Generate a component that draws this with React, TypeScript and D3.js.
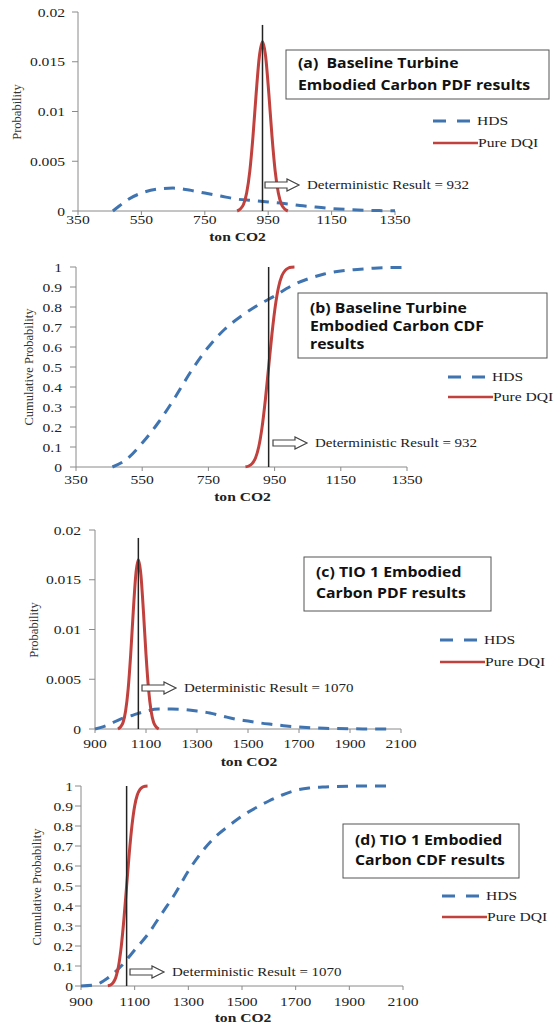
import React from "react";
import * as d3 from "d3";

// values
const baselineTicksX = [350, 550, 750, 950, 1150, 1350];
const tioTicksX = [900, 1100, 1300, 1500, 1700, 1900, 2100];
const pdfTicksY = [0, 0.005, 0.01, 0.015, 0.02];
const cdfTicksY = [0, 0.1, 0.2, 0.3, 0.4, 0.5, 0.6, 0.7, 0.8, 0.9, 1];

const detBaseline = 932;
const detTio = 1070;

// (a) baseline turbine PDF
const baseHdsPdfX = [460, 480, 500, 550, 600, 650, 700, 750, 800, 850, 900, 950, 1000, 1050, 1100, 1150, 1200, 1250, 1300, 1350];
const baseHdsPdfY = [0, 0.0005, 0.001, 0.0018, 0.0022, 0.0023, 0.0021, 0.0018, 0.0015, 0.0012, 0.00105, 0.0009, 0.00075, 0.00055, 0.0004, 0.00025, 0.00015, 0.00008, 0.00004, 0.00002];
const baseDqiPdfX = [852, 862, 872, 882, 892, 902, 912, 922, 932, 942, 952, 962, 972, 982, 992, 1002, 1012];
const baseDqiPdfY = [0, 0.0002, 0.00065, 0.0018, 0.004, 0.0075, 0.0118, 0.0155, 0.017, 0.0155, 0.0118, 0.0075, 0.004, 0.0018, 0.00065, 0.0002, 0];

// (b) baseline turbine CDF
const baseHdsCdfX = [460, 500, 550, 600, 650, 700, 750, 800, 850, 900, 950, 1000, 1050, 1100, 1150, 1200, 1250, 1300, 1350];
const baseHdsCdfY = [0, 0.035, 0.12, 0.225, 0.35, 0.485, 0.6, 0.69, 0.755, 0.81, 0.855, 0.905, 0.94, 0.965, 0.98, 0.988, 0.994, 0.997, 0.998];
const baseDqiCdfX = [862, 872, 882, 892, 902, 912, 922, 932, 942, 952, 962, 972, 982, 992, 1002, 1010];
const baseDqiCdfY = [0.001, 0.005, 0.017, 0.044, 0.1, 0.197, 0.335, 0.5, 0.665, 0.803, 0.9, 0.956, 0.983, 0.995, 0.999, 1];

// (c) TIO 1 PDF
const tioHdsPdfX = [900, 950, 1000, 1050, 1100, 1150, 1200, 1250, 1300, 1350, 1400, 1450, 1500, 1550, 1600, 1650, 1700, 1750, 1800, 1850, 1900, 1950, 2000, 2050];
const tioHdsPdfY = [0, 0.0004, 0.001, 0.0014, 0.0018, 0.002, 0.002, 0.00195, 0.0018, 0.0016, 0.0013, 0.001, 0.0008, 0.0006, 0.00045, 0.0003, 0.0002, 0.00012, 0.00007, 0.00004, 0.00002, 0.00001, 0.00001, 0];
const tioDqiPdfX = [990, 1000, 1010, 1020, 1030, 1040, 1050, 1060, 1070, 1080, 1090, 1100, 1110, 1120, 1130, 1140, 1150];
const tioDqiPdfY = [0, 0.0002, 0.00065, 0.0018, 0.004, 0.0075, 0.0118, 0.0155, 0.017, 0.0155, 0.0118, 0.0075, 0.004, 0.0018, 0.00065, 0.0002, 0];

// (d) TIO 1 CDF
const tioHdsCdfX = [900, 950, 1000, 1050, 1100, 1150, 1200, 1250, 1300, 1350, 1400, 1450, 1500, 1550, 1600, 1650, 1700, 1750, 1800, 1900, 2000, 2050];
const tioHdsCdfY = [0, 0.005, 0.04, 0.1, 0.18, 0.26, 0.36, 0.46, 0.575, 0.67, 0.745, 0.8, 0.85, 0.89, 0.925, 0.955, 0.978, 0.99, 0.995, 0.999, 1, 1];
const tioDqiCdfX = [1000, 1010, 1020, 1030, 1040, 1050, 1060, 1070, 1080, 1090, 1100, 1110, 1120, 1130, 1140, 1148];
const tioDqiCdfY = [0.001, 0.005, 0.017, 0.044, 0.1, 0.197, 0.335, 0.5, 0.665, 0.803, 0.9, 0.956, 0.983, 0.995, 0.999, 1];

const serif = "'Liberation Serif', 'Times New Roman', serif";
const sans = "'Open Sans', sans-serif";
const SX = 1.2; // the figure is stretched sideways
const BLUE = "#3f74b0";
const RED = "#c0413d";
const AXIS = "#8a8a8a";

const T = ({ x, y, children, anchor = "start", size = 13, weight = 400, family = serif, fill = "#222", sx = SX }: any) => (
	<text
		transform={`translate(${x},${y}) scale(${sx},1)`}
		textAnchor={anchor}
		fontSize={size}
		fontWeight={weight}
		fontFamily={family}
		fill={fill}
	>
		{children}
	</text>
);

const panels = [
	{
		xDomain: [350, 1350], yDomain: [0, 0.02], xTicks: baselineTicksX, yTicks: pdfTicksY,
		left: 78, right: 395, bottom: 211, top: 12, yGap: 13, tickBase: 224, labelBase: 241,
		hds: { x: baseHdsPdfX, y: baseHdsPdfY }, dqi: { x: baseDqiPdfX, y: baseDqiPdfY },
		det: detBaseline, detTop: 0.0187,
		yLabel: "Probability", yLabelX: 21, yLabelY: 112,
		title: ["(a)\u00a0\u00a0Baseline Turbine", "Embodied Carbon PDF results"],
		box: { x: 286, y: 50, w: 263, h: 49 }, titleX: 298, titleY: 68, titleDy: 22,
		legX: 433, legY: 121, legDy: 22, arrX: 265, arrY: 185,
	},
	{
		xDomain: [350, 1350], yDomain: [0, 1], xTicks: baselineTicksX, yTicks: cdfTicksY,
		left: 76, right: 407, bottom: 467, top: 267, yGap: 14, tickBase: 484, labelBase: 501,
		hds: { x: baseHdsCdfX, y: baseHdsCdfY }, dqi: { x: baseDqiCdfX, y: baseDqiCdfY },
		det: detBaseline, detTop: 1,
		yLabel: "Cumulative Probability", yLabelX: 33, yLabelY: 367,
		title: ["(b) Baseline Turbine", "Embodied Carbon CDF", "results"],
		box: { x: 298, y: 293, w: 249, h: 65 }, titleX: 310, titleY: 313, titleDy: 18,
		legX: 448, legY: 377, legDy: 20, arrX: 273, arrY: 443,
	},
	{
		xDomain: [900, 2100], yDomain: [0, 0.02], xTicks: tioTicksX, yTicks: pdfTicksY,
		left: 95, right: 401, bottom: 729, top: 530, yGap: 14, tickBase: 748, labelBase: 766,
		hds: { x: tioHdsPdfX, y: tioHdsPdfY }, dqi: { x: tioDqiPdfX, y: tioDqiPdfY },
		det: detTio, detTop: 0.0192,
		yLabel: "Probability", yLabelX: 38, yLabelY: 630,
		title: ["(c) TIO 1 Embodied", "Carbon PDF results"],
		box: { x: 304, y: 557, w: 187, h: 54 }, titleX: 316, titleY: 577, titleDy: 21,
		legX: 440, legY: 640, legDy: 22, arrX: 142, arrY: 688,
	},
	{
		xDomain: [900, 2100], yDomain: [0, 1], xTicks: tioTicksX, yTicks: cdfTicksY,
		left: 81, right: 403, bottom: 986, top: 786, yGap: 8, tickBase: 1006, labelBase: 1022,
		hds: { x: tioHdsCdfX, y: tioHdsCdfY }, dqi: { x: tioDqiCdfX, y: tioDqiCdfY },
		det: detTio, detTop: 1,
		yLabel: "Cumulative Probability", yLabelX: 41, yLabelY: 887,
		title: ["(d) TIO 1 Embodied", "Carbon CDF results"],
		box: { x: 343, y: 824, w: 176, h: 54 }, titleX: 355, titleY: 845, titleDy: 20,
		legX: 442, legY: 896, legDy: 21, arrX: 130, arrY: 972,
	},
];

const Panel = ({ p }: { p: any }) => {
	const x = d3.scaleLinear().domain(p.xDomain).range([p.left, p.right]);
	const y = d3.scaleLinear().domain(p.yDomain).range([p.bottom, p.top]);
	const path = (s: { x: number[]; y: number[] }) =>
		d3
			.line<number>()
			.x((_, i) => x(s.x[i]))
			.y((v) => y(v))
			.curve(d3.curveMonotoneX)(s.y) || "";

	const ax = p.arrX;
	const ay = p.arrY;
	const arrow = `M${ax},${ay - 3}H${ax + 22}V${ay - 6}L${ax + 34},${ay}L${ax + 22},${ay + 6}V${ay + 3}H${ax}Z`;

	return (
		<g>
			{/* axes */}
			<line x1={p.left} x2={p.left} y1={y(p.yDomain[1])} y2={p.bottom} stroke={AXIS} />
			<line x1={p.left} x2={x(p.xDomain[1])} y1={p.bottom} y2={p.bottom} stroke={AXIS} />
			{p.yTicks.map((t: number) => (
				<g key={"y" + t}>
					<line x1={p.left - 6} x2={p.left} y1={y(t)} y2={y(t)} stroke={AXIS} />
					<T x={p.left - p.yGap} y={y(t) + 4.5} anchor="end">{String(t)}</T>
				</g>
			))}
			{p.xTicks.map((t: number) => (
				<g key={"x" + t}>
					<line x1={x(t)} x2={x(t)} y1={p.bottom} y2={p.bottom + 4} stroke={AXIS} />
					<T x={x(t)} y={p.tickBase} anchor="middle">{String(t)}</T>
				</g>
			))}
			<T x={(p.left + p.right) / 2 + 1} y={p.labelBase} anchor="middle" weight={700}>ton CO2</T>
			<text
				transform={`translate(${p.yLabelX},${p.yLabelY}) rotate(-90)`}
				textAnchor="middle"
				fontSize={12.5}
				fontFamily={serif}
				fill="#333"
			>
				{p.yLabel}
			</text>

			{/* series */}
			<path d={path(p.hds)} fill="none" stroke={BLUE} strokeWidth={3} strokeDasharray="11,8" />
			<path d={path(p.dqi)} fill="none" stroke={RED} strokeWidth={3} />
			<line x1={x(p.det)} x2={x(p.det)} y1={p.bottom} y2={y(p.detTop)} stroke="#222" strokeWidth={1.5} />

			{/* deterministic annotation */}
			<path d={arrow} fill="#fff" stroke="#444" strokeWidth={1.2} />
			<T x={ax + 42} y={ay + 4} size={12.5}>Deterministic Result = {p.det}</T>

			{/* title box */}
			<rect x={p.box.x} y={p.box.y} width={p.box.w} height={p.box.h} fill="#fff" stroke="#555" strokeWidth={1} />
			{p.title.map((s: string, i: number) => (
				<T key={s} x={p.titleX} y={p.titleY + i * p.titleDy} size={14} sx={1.13} weight={700} family={sans} fill="#111">{s}</T>
			))}

			{/* legend */}
			<line x1={p.legX} x2={p.legX + 38} y1={p.legY} y2={p.legY} stroke={BLUE} strokeWidth={3} strokeDasharray="13,11" />
			<T x={p.legX + 44} y={p.legY + 4}>HDS</T>
			<line x1={p.legX} x2={p.legX + 45} y1={p.legY + p.legDy} y2={p.legY + p.legDy} stroke={RED} strokeWidth={2.5} />
			<T x={p.legX + 45} y={p.legY + p.legDy + 4}>Pure DQI</T>
		</g>
	);
};

export default function App() {
	return (
		<svg
			width={555}
			height={1025}
			style={{ position: "absolute", left: 0, top: 0, background: "#fff" }}
		>
			{panels.map((p, i) => (
				<Panel key={i} p={p} />
			))}
		</svg>
	);
}
